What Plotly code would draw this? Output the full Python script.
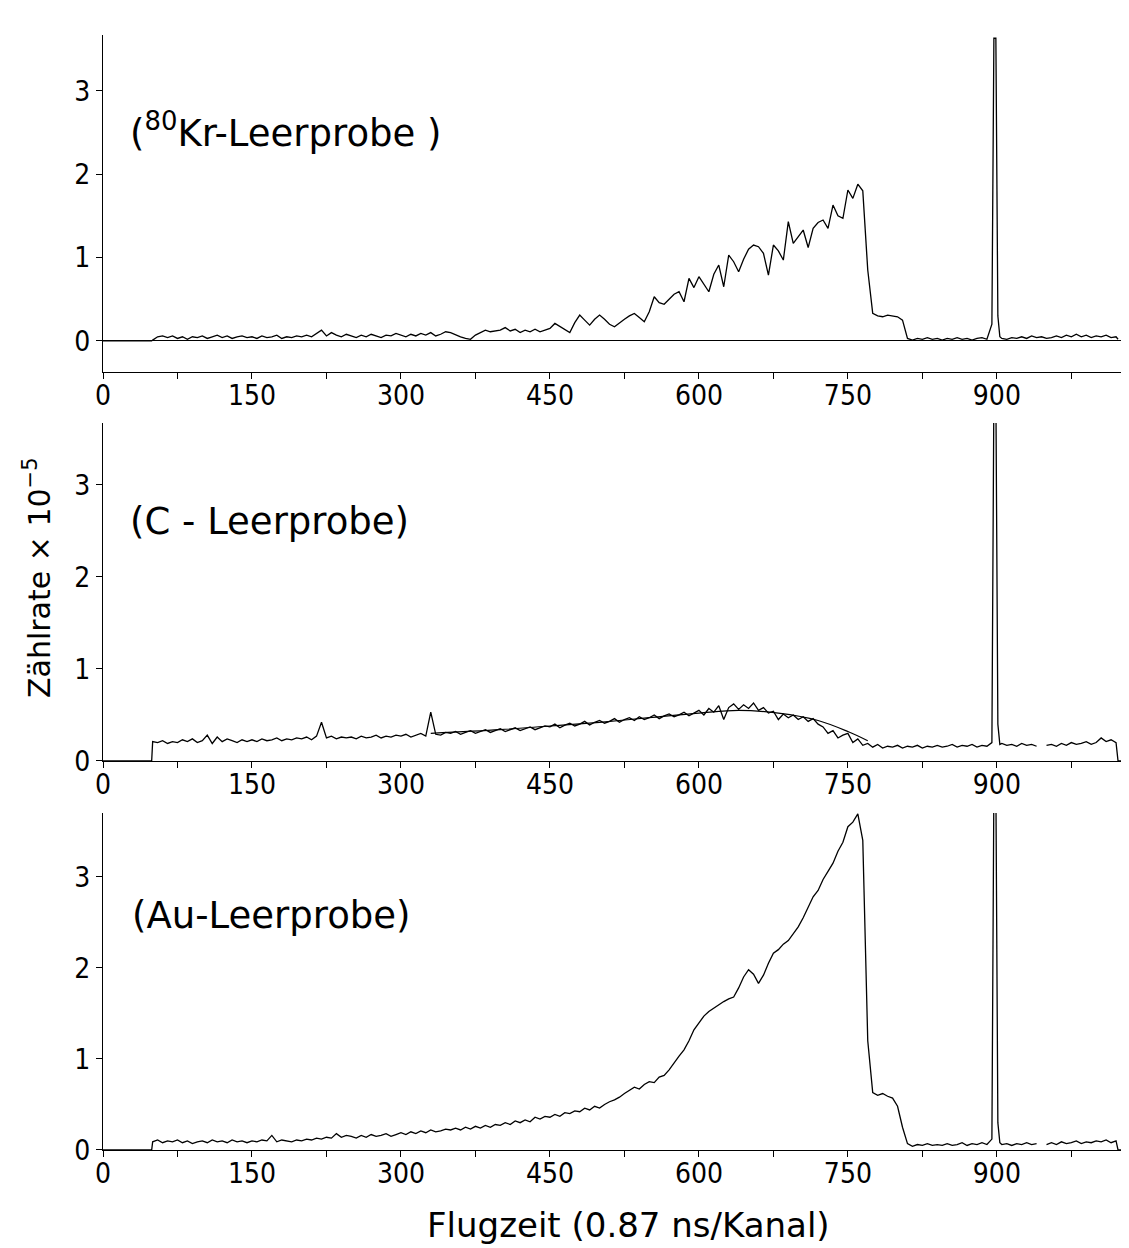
import plotly.graph_objects as go
from plotly.subplots import make_subplots

# Kanalnummern (gemeinsam für alle drei Spektren)
kanal = [0, 49] + list(range(50, 896, 5)) + [897, 899, 901, 903] + list(range(905, 1021, 5)) + [1022, 1027]

# Zählrate x 1e-5
kr_leer = [
    0, 0,
    0.01, 0.05, 0.06, 0.04, 0.06, 0.03, 0.05, 0.02, 0.05, 0.04,   # 50-95
    0.06, 0.03, 0.05, 0.07, 0.04, 0.06, 0.03, 0.05, 0.06, 0.04,   # 100-145
    0.05, 0.03, 0.06, 0.04, 0.05, 0.07, 0.03, 0.05, 0.04, 0.06,   # 150-195
    0.05, 0.07, 0.05, 0.09, 0.13, 0.06, 0.10, 0.07, 0.05, 0.08,   # 200-245
    0.06, 0.04, 0.07, 0.05, 0.08, 0.06, 0.04, 0.07, 0.06, 0.09,   # 250-295
    0.07, 0.05, 0.08, 0.06, 0.09, 0.07, 0.10, 0.06, 0.08, 0.11,   # 300-345
    0.10, 0.07, 0.05, 0.03, 0.02, 0.07, 0.10, 0.13, 0.11, 0.12,   # 350-395
    0.13, 0.16, 0.12, 0.14, 0.10, 0.13, 0.11, 0.14, 0.11, 0.13,   # 400-445
    0.15, 0.21, 0.17, 0.13, 0.10, 0.22, 0.31, 0.25, 0.19, 0.26,   # 450-495
    0.31, 0.26, 0.20, 0.17, 0.22, 0.26, 0.30, 0.33, 0.28, 0.23,   # 500-545
    0.35, 0.53, 0.46, 0.44, 0.50, 0.56, 0.59, 0.47, 0.75, 0.64,   # 550-595
    0.77, 0.68, 0.59, 0.80, 0.91, 0.65, 1.03, 0.95, 0.83, 0.98,   # 600-645
    1.10, 1.15, 1.13, 1.05, 0.79, 1.15, 1.08, 0.97, 1.43, 1.17,   # 650-695
    1.25, 1.33, 1.12, 1.35, 1.42, 1.45, 1.35, 1.63, 1.50, 1.47,   # 700-745
    1.81, 1.71, 1.88, 1.80, 0.85, 0.33, 0.30, 0.29, 0.31, 0.30,   # 750-795
    0.29, 0.25, 0.03, 0.01, 0.03, 0.02, 0.04, 0.02, 0.03, 0.01,   # 800-845
    0.03, 0.02, 0.04, 0.02, 0.03, 0.01, 0.03, 0.04, 0.02, 0.20,   # 850-895
    3.63, 3.63, 0.30, 0.05,                                       # 897-903
    0.03, 0.02, 0.04, 0.03, 0.05, 0.03, 0.06, 0.04, 0.05, 0.03,   # 905-950
    0.04, 0.06, 0.04, 0.07, 0.05, 0.08, 0.05, 0.07, 0.04, 0.06,   # 955-1000
    0.05, 0.07, 0.04, 0.05,                                       # 1005-1020
    0.02, None,
]

c_leer = [
    0, 0,
    0.21, 0.20, 0.22, 0.19, 0.21, 0.20, 0.23, 0.21, 0.24, 0.20,   # 50-95
    0.22, 0.28, 0.19, 0.26, 0.21, 0.24, 0.22, 0.20, 0.23, 0.21,   # 100-145
    0.23, 0.21, 0.24, 0.22, 0.23, 0.25, 0.22, 0.24, 0.23, 0.25,   # 150-195
    0.24, 0.26, 0.23, 0.27, 0.42, 0.25, 0.27, 0.24, 0.26, 0.25,   # 200-245
    0.26, 0.24, 0.27, 0.25, 0.26, 0.28, 0.25, 0.27, 0.26, 0.28,   # 250-295
    0.27, 0.29, 0.26, 0.28, 0.30, 0.27, 0.53, 0.29, 0.28, 0.31,   # 300-345
    0.30, 0.32, 0.29, 0.31, 0.33, 0.30, 0.32, 0.34, 0.31, 0.33,   # 350-395
    0.35, 0.32, 0.34, 0.36, 0.33, 0.35, 0.37, 0.34, 0.36, 0.38,   # 400-445
    0.37, 0.40, 0.36, 0.39, 0.41, 0.38, 0.40, 0.43, 0.39, 0.42,   # 450-495
    0.44, 0.41, 0.43, 0.46, 0.42, 0.45, 0.47, 0.44, 0.48, 0.45,   # 500-545
    0.47, 0.50, 0.46, 0.49, 0.51, 0.48, 0.50, 0.53, 0.49, 0.52,   # 550-595
    0.55, 0.50, 0.57, 0.53, 0.60, 0.45, 0.58, 0.62, 0.56, 0.61,   # 600-645
    0.57, 0.63, 0.55, 0.58, 0.52, 0.54, 0.45, 0.51, 0.47, 0.50,   # 650-695
    0.45, 0.48, 0.43, 0.46, 0.40, 0.37, 0.30, 0.33, 0.25, 0.28,   # 700-745
    0.30, 0.20, 0.24, 0.17, 0.19, 0.15, 0.18, 0.14, 0.16, 0.15,   # 750-795
    0.17, 0.14, 0.16, 0.15, 0.17, 0.14, 0.16, 0.15, 0.17, 0.15,   # 800-845
    0.16, 0.18, 0.15, 0.17, 0.16, 0.18, 0.15, 0.17, 0.16, 0.20,   # 850-895
    4.0, 4.0, 0.40, 0.18,                                         # 897-903
    0.19, 0.17, 0.18, 0.16, 0.19, 0.17, 0.18, 0.16, None, 0.17,   # 905-950
    0.18, 0.16, 0.19, 0.17, 0.20, 0.18, 0.19, 0.21, 0.18, 0.20,   # 955-1000
    0.25, 0.21, 0.23, 0.20,                                       # 1005-1020
    0, 0,
]

# geglätteter Verlauf im C-Spektrum
c_glatt_kanal = [330, 400, 450, 500, 550, 600, 640, 680, 720, 750, 770]
c_glatt = [0.30, 0.34, 0.38, 0.42, 0.47, 0.52, 0.55, 0.52, 0.44, 0.32, 0.22]

au_leer = [
    0, 0,
    0.09, 0.11, 0.08, 0.10, 0.09, 0.11, 0.08, 0.10, 0.07, 0.09,   # 50-95
    0.10, 0.08, 0.11, 0.09, 0.10, 0.08, 0.11, 0.09, 0.10, 0.08,   # 100-145
    0.10, 0.09, 0.11, 0.10, 0.16, 0.09, 0.11, 0.10, 0.09, 0.11,   # 150-195
    0.10, 0.12, 0.11, 0.13, 0.12, 0.14, 0.13, 0.18, 0.14, 0.16,   # 200-245
    0.15, 0.13, 0.16, 0.14, 0.17, 0.15, 0.16, 0.18, 0.15, 0.17,   # 250-295
    0.19, 0.17, 0.20, 0.18, 0.21, 0.19, 0.22, 0.20, 0.21, 0.23,   # 300-345
    0.22, 0.24, 0.22, 0.25, 0.23, 0.26, 0.24, 0.27, 0.25, 0.28,   # 350-395
    0.27, 0.30, 0.28, 0.32, 0.30, 0.33, 0.31, 0.36, 0.34, 0.37,   # 400-445
    0.36, 0.39, 0.37, 0.41, 0.40, 0.43, 0.42, 0.46, 0.44, 0.48,   # 450-495
    0.46, 0.50, 0.53, 0.55, 0.58, 0.62, 0.66, 0.69, 0.67, 0.72,   # 500-545
    0.75, 0.74, 0.80, 0.82, 0.88, 0.96, 1.03, 1.10, 1.20, 1.32,   # 550-595
    1.40, 1.47, 1.52, 1.56, 1.60, 1.63, 1.66, 1.68, 1.78, 1.90,   # 600-645
    1.98, 1.93, 1.83, 1.92, 2.05, 2.16, 2.20, 2.26, 2.30, 2.38,   # 650-695
    2.45, 2.55, 2.66, 2.78, 2.85, 2.97, 3.06, 3.15, 3.28, 3.38,   # 700-745
    3.55, 3.60, 3.69, 3.40, 1.20, 0.63, 0.60, 0.62, 0.59, 0.57,   # 750-795
    0.48, 0.25, 0.07, 0.04, 0.06, 0.05, 0.07, 0.05, 0.06, 0.05,   # 800-845
    0.07, 0.05, 0.06, 0.08, 0.05, 0.07, 0.06, 0.08, 0.06, 0.12,   # 850-895
    4.0, 4.0, 0.30, 0.08,                                         # 897-903
    0.06, 0.07, 0.05, 0.07, 0.06, 0.08, 0.06, 0.07, None, 0.06,   # 905-950
    0.08, 0.06, 0.09, 0.07, 0.08, 0.10, 0.07, 0.09, 0.08, 0.10,   # 955-1000
    0.09, 0.11, 0.08, 0.10,                                       # 1005-1020
    0, 0,
]

y_tickvals = [0, 1, 2, 3]

tick_font = dict(family="Liberation Sans Narrow, DejaVu Sans Condensed, Arial Narrow, sans-serif",
                 size=28, color="black")
label_font = dict(family="DejaVu Sans, sans-serif", size=37, color="black")

fig = make_subplots(rows=3, cols=1)

line = dict(color="black", width=1.3)
fig.add_trace(go.Scatter(x=kanal, y=kr_leer, mode="lines", line=line), row=1, col=1)
fig.add_trace(go.Scatter(x=kanal, y=c_leer, mode="lines", line=line), row=2, col=1)
fig.add_trace(go.Scatter(x=c_glatt_kanal, y=c_glatt, mode="lines", line_shape="spline",
                         line=dict(color="black", width=1.2)), row=2, col=1)
fig.add_trace(go.Scatter(x=kanal, y=au_leer, mode="lines", line=line), row=3, col=1)

axis_common = dict(showline=True, linecolor="black", linewidth=1.4, showgrid=False,
                   ticks="outside", ticklen=6, tickcolor="black", tickwidth=1.2,
                   tickfont=tick_font)

for r in (1, 2, 3):
    fig.update_xaxes(range=[0, 1027], tickmode="linear", tick0=0, dtick=150,
                     minor=dict(dtick=75, ticks="outside", ticklen=6, tickcolor="black",
                                tickwidth=1.2, showgrid=False),
                     zeroline=False, ticklabelstandoff=-8, **axis_common, row=r, col=1)

fig.update_yaxes(range=[-0.372, 3.669], tickvals=y_tickvals, zeroline=True,
                 zerolinecolor="black", zerolinewidth=1.2, **axis_common, row=1, col=1)
fig.update_yaxes(range=[0, 3.67], tickvals=y_tickvals, zeroline=False, **axis_common, row=2, col=1)
fig.update_yaxes(range=[0, 3.70], tickvals=y_tickvals, zeroline=False, **axis_common, row=3, col=1)

fig.update_layout(
    yaxis=dict(domain=[0.6978, 1.0]),
    yaxis2=dict(domain=[0.3489, 0.6520]),
    yaxis3=dict(domain=[0.0, 0.3022]),
)

# rechter Rahmenstrich
for yref, top in (("y", 3.669), ("y2", 3.67), ("y3", 3.70)):
    fig.add_shape(type="line", xref="paper", yref=yref, x0=1.0049, x1=1.0049, y0=0, y1=top,
                  line=dict(color="black", width=1.5))

fig.add_annotation(x=25, y=2.52, xref="x", yref="y", text="(<sup>80</sup>Kr-Leerprobe )",
                   showarrow=False, xanchor="left", yanchor="middle", font=label_font)
fig.add_annotation(x=25, y=2.60, xref="x2", yref="y2", text="(C - Leerprobe)",
                   showarrow=False, xanchor="left", yanchor="middle", font=label_font)
fig.add_annotation(x=27, y=2.58, xref="x3", yref="y3", text="(Au-Leerprobe)",
                   showarrow=False, xanchor="left", yanchor="middle", font=label_font)

fig.add_annotation(x=-0.0647, y=0.513, xref="paper", yref="paper",
                   text="Zählrate × 10<sup>−5</sup>", textangle=-90, showarrow=False,
                   xanchor="center", yanchor="middle",
                   font=dict(family="DejaVu Sans, sans-serif", size=30, color="black"))
fig.add_annotation(x=0.515, y=-0.0673, xref="paper", yref="paper",
                   text="Flugzeit (0.87 ns/Kanal)", showarrow=False,
                   xanchor="center", yanchor="middle",
                   font=dict(family="DejaVu Sans, sans-serif", size=34, color="black"))

# Seite hat 8 px Rand -> Figur entsprechend kleiner
fig.update_layout(
    width=1121, height=1240,
    margin=dict(l=95, r=6, t=27, b=98),
    paper_bgcolor="white", plot_bgcolor="white",
    showlegend=False,
)

fig.write_html("out.html")
